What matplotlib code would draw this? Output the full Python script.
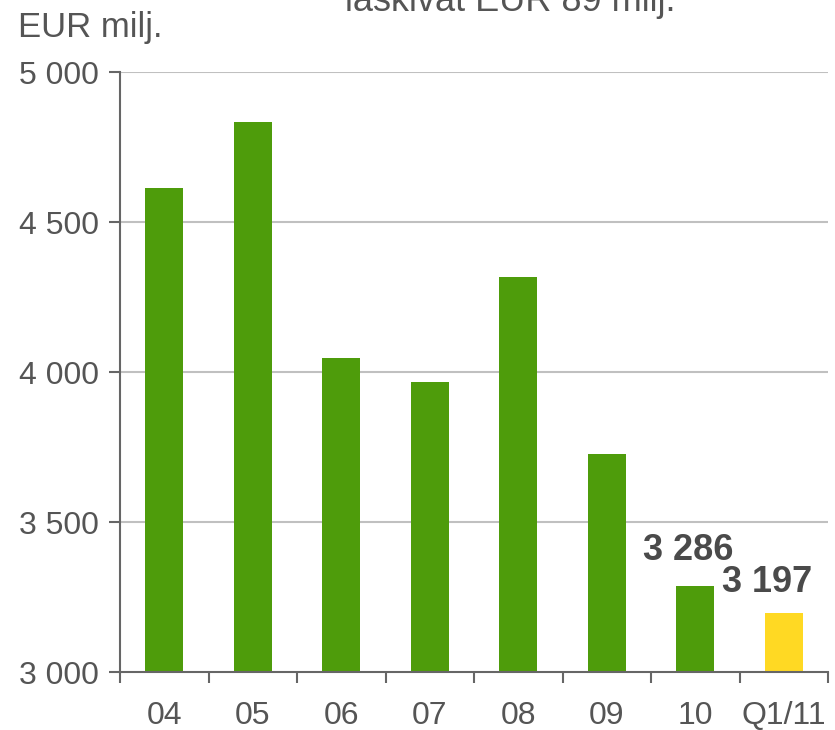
import matplotlib
matplotlib.use("Agg")
import matplotlib.pyplot as plt

categories = ["04", "05", "06", "07", "08", "09", "10", "Q1/11"]
values = [4613, 4833, 4047, 3967, 4317, 3727, 3286, 3197]
bar_colors = ["#4E9C0B"] * 7 + ["#FFD923"]
labels = {6: "3 286", 7: "3 197"}
yticks = [3000, 3500, 4000, 4500, 5000]
ytick_labels = ["3 000", "3 500", "4 000", "4 500", "5 000"]

plt.rcParams['font.family'] = ['Liberation Sans', 'DejaVu Sans']
txt = "#555555"

fig = plt.figure(figsize=(8.35, 7.3), dpi=100)
ax = fig.add_axes([120/835, 1-672/730, 708/835, 600/730])

x = list(range(len(categories)))
ax.bar(x, values, width=0.43, color=bar_colors, zorder=3)
ax.set_xlim(-0.5, len(categories) - 0.5)
ax.set_ylim(3000, 5000)
ax.set_yticks(yticks)
ax.set_yticklabels(ytick_labels)
ax.set_xticks(x)
ax.set_xticklabels(categories)
ax.set_xticks([i - 0.5 for i in range(len(categories) + 1)], minor=True)
ax.tick_params(axis='x', which='major', length=0, pad=21, labelsize=23, labelcolor=txt)
ax.tick_params(axis='x', which='minor', length=8, width=1.5, color="#666666", direction='out')
ax.tick_params(axis='y', length=8, width=1.5, color="#666666", pad=7, labelsize=23, labelcolor=txt)

for y in yticks[1:]:
    ax.axhline(y, color="#C0C0C0", lw=1.5, zorder=1)

for s in ["top", "right"]:
    ax.spines[s].set_visible(False)
for s in ["left", "bottom"]:
    ax.spines[s].set_color("#666666")
    ax.spines[s].set_linewidth(1.5)
ax.spines["bottom"].set_zorder(4)

offsets = {6: (-5, 13), 7: (-12, 9)}
for i, lab in labels.items():
    ax.annotate(lab, (x[i], values[i]), xytext=offsets[i], textcoords='offset points',
                ha='center', va='bottom', fontsize=26, fontweight='bold', color="#4A4A4A")

fig.text(18/835, 1-28/730, "EUR milj.", fontsize=25, color=txt, va='center', ha='left')
fig.text(510/835, 1-11/730, "laskivat EUR 89 milj.", fontsize=26, color=txt, va='baseline', ha='center')

fig.savefig("out.png", dpi=100)
